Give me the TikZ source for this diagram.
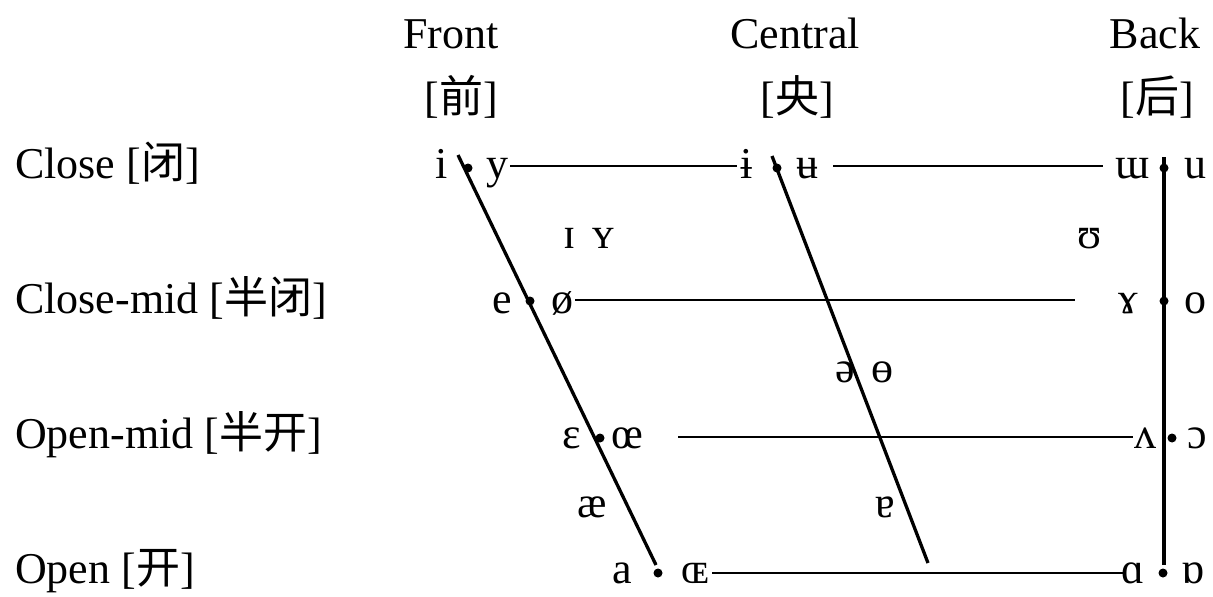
\documentclass[tikz,border=0pt]{standalone}
\usepackage{fontspec}
\setmainfont{Liberation Serif}
\newfontfamily\cjk{Noto Sans CJK SC}
\newcommand{\zh}[1]{{\cjk #1}}
\begin{document}
\begin{tikzpicture}[x=1pt,y=-1pt,
  lbl/.style={inner sep=0pt,anchor=base,font=\fontsize{44}{52}\selectfont},
  rowlbl/.style={inner sep=0pt,anchor=base west,font=\fontsize{44}{52}\selectfont},
  thickline/.style={line width=3.3pt},
  thinline/.style={line width=1.3pt},
  vdot/.style={circle,fill=black,inner sep=0pt,minimum size=9pt}]
\useasboundingbox (0,0) rectangle (1213,597);
% headers
\node[lbl] (hf) at (451,48) {Front};
\node[lbl] (hc) at (795,48) {Central};
\node[lbl] (hb) at (1155,48) {Back};
\node[lbl] (zf) at (461,112) {[\zh{前}]};
\node[lbl] (zc) at (797,112) {[\zh{央}]};
\node[lbl] (zb) at (1157,112) {[\zh{后}]};
% row labels
\node[rowlbl] (r1) at (15,178) {Close [\zh{闭}]};
\node[rowlbl] (r2) at (15,313) {Close-mid [\zh{半闭}]};
\node[rowlbl] (r3) at (15,448) {Open-mid [\zh{半开}]};
\node[rowlbl] (r4) at (15,583) {Open [\zh{开}]};
% vowels
\node[lbl] (vi) at (442,178) {i};
\node[lbl] (vy) at (497,178) {y};
\node[lbl] (vib) at (747,178) {ɨ};
\node[lbl] (vub) at (807,178) {ʉ};
\node[lbl] (vmu) at (1133,178) {ɯ};
\node[lbl] (vu) at (1195,178) {u};
\node[lbl] (vI) at (570,248) {ɪ};
\node[lbl] (vY) at (603,248) {ʏ};
\node[lbl] (vU) at (1090,248) {ʊ};
\node[lbl] (ve) at (502,313) {e};
\node[lbl] (voe) at (562,313) {ø};
\node[lbl] (vgam) at (1128,313) {ɤ};
\node[lbl] (vo) at (1195,313) {o};
\node[lbl] (vschwa) at (845,382) {ə};
\node[lbl] (vbo) at (882,382) {ɵ};
\node[lbl] (veps) at (572,448) {ɛ};
\node[lbl] (voel) at (627,448) {œ};
\node[lbl] (vwedge) at (1145,448) {ʌ};
\node[lbl] (vopo) at (1197,448) {ɔ};
\node[lbl] (vae) at (592,517) {æ};
\node[lbl] (vturna) at (885,517) {ɐ};
\node[lbl] (va) at (622,583) {a};
\node[lbl] (vOE) at (695,583) {ɶ};
\node[lbl] (valpha) at (1133,583) {ɑ};
\node[lbl] (vturnalpha) at (1193,583) {ɒ};
% frame coordinates
\coordinate (ft) at (458,155);
\coordinate (fb) at (656,565);
\coordinate (ct) at (772,156);
\coordinate (cb) at (928,563);
\coordinate (bt) at (1164,157);
\coordinate (bb) at (1164,565);
\coordinate (h1a) at (510,166);
\coordinate (h1b) at (737,166);
\coordinate (h1c) at (833,166);
\coordinate (h1d) at (1103,166);
\coordinate (h2a) at (575,300);
\coordinate (h2b) at (1075,300);
\coordinate (h3a) at (678,437);
\coordinate (h3b) at (1133,437);
\coordinate (h4a) at (712,573);
\coordinate (h4b) at (1123,573);
% lines
\draw[thickline] (ft) -- (fb);
\draw[thickline] (ct) -- (cb);
\draw[thickline] (bt) -- (bb);
\draw[thinline] (h1a) -- (h1b);
\draw[thinline] (h1c) -- (h1d);
\draw[thinline] (h2a) -- (h2b);
\draw[thinline] (h3a) -- (h3b);
\draw[thinline] (h4a) -- (h4b);
% dots
\node[vdot] (d1) at (468,168) {};
\node[vdot] (d2) at (777,168) {};
\node[vdot] (d3) at (1164,168) {};
\node[vdot] (d4) at (530,301) {};
\node[vdot] (d5) at (1164,301) {};
\node[vdot] (d6) at (600,438) {};
\node[vdot] (d7) at (1172,438) {};
\node[vdot] (d8) at (658,573) {};
\node[vdot] (d9) at (1163,573) {};
\end{tikzpicture}
\end{document}
